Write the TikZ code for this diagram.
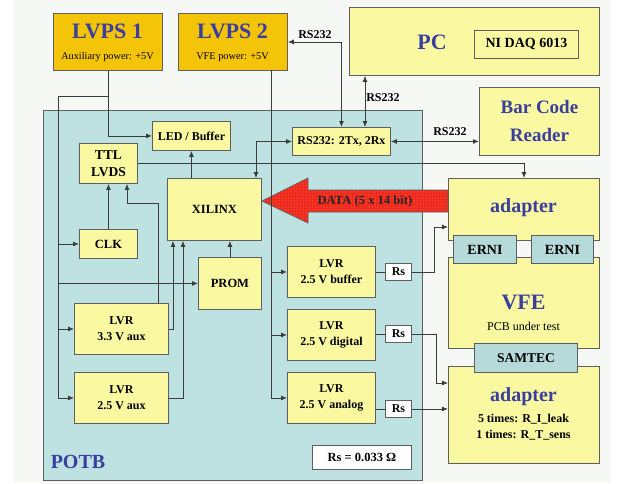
\documentclass[tikz,border=0pt]{standalone}
\usepackage{fontspec}
\setmainfont{Liberation Serif}
\usetikzlibrary{arrows.meta,patterns,calc}
\definecolor{gold}{RGB}{244,196,8}
\definecolor{pale}{RGB}{250,249,162}
\definecolor{potb}{RGB}{190,226,226}
\definecolor{conn}{RGB}{182,218,218}
\definecolor{ttlblue}{RGB}{58,62,158}
\definecolor{edge}{RGB}{95,95,95}
\definecolor{wire}{RGB}{60,60,60}
\definecolor{bg}{RGB}{245,248,245}
\definecolor{datared}{RGB}{240,40,25}
\tikzset{
  bx/.style={draw=edge, line width=0.9pt, anchor=north west, inner sep=0pt, align=center, font=\bfseries\fontsize{12}{16}\selectfont},
  ybox/.style={bx, fill=pale},
  gbox/.style={bx, fill=gold},
  cbox/.style={bx, fill=conn, font=\bfseries\fontsize{14}{15}\selectfont},
  wbox/.style={bx, fill=white},
  bigt/.style={font=\bfseries\fontsize{22}{24}\selectfont, text=ttlblue, inner sep=0pt},
  midt/.style={font=\bfseries\fontsize{20}{22}\selectfont, text=ttlblue, inner sep=0pt, align=center},
  smallt/.style={font=\fontsize{10.3}{11}\selectfont, inner sep=0pt},
  lbl/.style={font=\bfseries\fontsize{12}{13}\selectfont, inner sep=0pt},
  wr/.style={draw=wire, line width=0.8pt},
  ar/.style={wr, -{Latex[length=6pt,width=5pt]}},
  dar/.style={wr, {Latex[length=6pt,width=5pt]}-{Latex[length=6pt,width=5pt]}},
}
\begin{document}
\begin{tikzpicture}[x=1pt,y=-1pt]
\useasboundingbox (0,0) rectangle (625,483);
\fill[bg] (14,0) rectangle (611,482);
% POTB
\node[bx, fill=potb, minimum width=379pt, minimum height=370pt] (potb) at (43,110) {};
\node[midt, anchor=center] (potbt) at (78,462) {POTB};
% top row
\node[gbox, minimum width=109pt, minimum height=57pt] (lvps1) at (53,13) {};
\node[bigt] (lvps1t) at (107.5,31) {LVPS 1};
\node[smallt] (lvps1s) at (107.5,57) {Auxiliary power: +5V};
\node[gbox, minimum width=109pt, minimum height=57pt] (lvps2) at (178,13) {};
\node[bigt] (lvps2t) at (232.5,31) {LVPS 2};
\node[smallt] (lvps2s) at (232.5,57) {VFE power: +5V};
\node[ybox, minimum width=250pt, minimum height=68pt] (pc) at (349,7) {};
\node[bigt] (pct) at (432,42) {PC};
\node[ybox, minimum width=104pt, minimum height=28pt, font=\bfseries\fontsize{14}{16}\selectfont] (daq) at (474,30) {NI DAQ 6013};
\node[ybox, minimum width=120pt, minimum height=68pt, font=\bfseries\fontsize{19}{28}\selectfont, text=ttlblue] (bcr) at (479,87) {Bar Code\\Reader};
% POTB content
\node[ybox, minimum width=78pt, minimum height=29pt] (led) at (152,121) {LED / Buffer};
\node[ybox, minimum width=98pt, minimum height=28pt] (rsb) at (292,127) {RS232: 2Tx, 2Rx};
\node[ybox, minimum width=58pt, minimum height=40pt, font=\bfseries\fontsize{13.5}{17}\selectfont] (ttl) at (79,143) {TTL\\LVDS};
\node[ybox, minimum width=94pt, minimum height=62pt, font=\bfseries\fontsize{12.5}{13}\selectfont] (xil) at (167,178) {XILINX};
\node[ybox, minimum width=58pt, minimum height=29pt, font=\bfseries\fontsize{12.5}{13}\selectfont] (clk) at (79,229) {CLK};
\node[ybox, minimum width=63pt, minimum height=52pt, font=\bfseries\fontsize{12.5}{13}\selectfont] (prom) at (198,257) {PROM};
\node[ybox, minimum width=94pt, minimum height=51pt] (lvr33) at (74,303) {LVR\\3.3 V aux};
\node[ybox, minimum width=94pt, minimum height=51pt] (lvr25) at (74,372) {LVR\\2.5 V aux};
\node[ybox, minimum width=88pt, minimum height=51pt] (lvrb) at (287,246) {LVR\\2.5 V buffer};
\node[ybox, minimum width=88pt, minimum height=51pt] (lvrd) at (287,309) {LVR\\2.5 V digital};
\node[ybox, minimum width=88pt, minimum height=51pt] (lvra) at (287,372) {LVR\\2.5 V analog};
\node[wbox, minimum width=26pt, minimum height=17pt] (rs1) at (385,263) {Rs};
\node[wbox, minimum width=26pt, minimum height=17pt] (rs2) at (385,325) {Rs};
\node[wbox, minimum width=26pt, minimum height=17pt] (rs3) at (385,400) {Rs};
\node[wbox, minimum width=99pt, minimum height=24pt, font=\bfseries\fontsize{12.5}{13}\selectfont] (rseq) at (312,445) {Rs = 0.033 Ω};
% right column
\node[ybox, minimum width=151pt, minimum height=62pt] (ad1) at (448,178) {};
\node[midt] (ad1t) at (523.5,208) {adapter};
\node[ybox, minimum width=151pt, minimum height=91pt] (vfe) at (448,257) {};
\node[bigt] (vfet) at (523.5,302) {VFE};
\node[smallt, font=\fontsize{12}{13}\selectfont] (vfes) at (523.5,326) {PCB under test};
\node[ybox, minimum width=151pt, minimum height=97pt] (ad2) at (448,366) {};
\node[midt] (ad2t) at (523.5,397) {adapter};
\node[lbl, align=center, font=\bfseries\fontsize{12}{16}\selectfont] (ad2s) at (523.5,427) {5 times: R\_I\_leak\\1 times: R\_T\_sens};
\node[cbox, minimum width=63pt, minimum height=28pt] (erni1) at (453,235) {ERNI};
\node[cbox, minimum width=62pt, minimum height=28pt] (erni2) at (531,235) {ERNI};
\node[cbox, minimum width=103pt, minimum height=29pt, font=\bfseries\fontsize{13.5}{14}\selectfont] (samtec) at (474,343) {SAMTEC};
% DATA arrow
\path[draw=edge, line width=0.8pt, fill=datared] (262,201) -- (308,178) -- (308,190) -- (448,190) -- (448,212) -- (308,212) -- (308,223) -- cycle;
\path[pattern=dots, pattern color=red!40!white] (262,201) -- (308,178) -- (308,190) -- (447,190) -- (447,212) -- (308,212) -- (308,223) -- cycle;
\node[lbl, font=\bfseries\fontsize{12.6}{13}\selectfont, text=black!85] (datal) at (365,201) {DATA (5 x 14 bit)};
% helper coordinates
\coordinate (b1) at (58,96);
\coordinate (b2) at (271,70);
\coordinate (x365) at (365,0);
\coordinate (x256) at (256,0);
\coordinate (x158) at (158,0);
\coordinate (x127) at (127,203);
\coordinate (x173) at (173,0);
\coordinate (x183) at (183,0);
\coordinate (k1) at (434,0);
\coordinate (y227) at (0,227);
\coordinate (k2) at (436,0);
\coordinate (y383) at (0,383);
% LVPS1 wiring
\draw[ar] (lvps1.south) |- (led.west);
\draw[wr] (lvps1.south |- b1) -- (b1) -- (b1 |- lvr25.west);
\draw[ar] (b1 |- lvr25.west) -- (lvr25.west);
\draw[ar] (b1 |- lvr33.west) -- (lvr33.west);
\draw[ar] (b1 |- clk.west) -- (clk.west);
\draw[ar] (b1 |- prom.west) -- (prom.west);
% LVPS2 wiring
\draw[wr] (b2) -- (b2 |- lvra.west);
\draw[ar] (b2 |- lvra.west) -- (lvra.west);
\draw[ar] (b2 |- lvrd.west) -- (lvrd.west);
\draw[ar] (b2 |- lvrb.west) -- (lvrb.west);
% RS232 links
\draw[dar] (lvps2.east) -| (rsb.north);
\node[lbl] (l1) at (315,35) {RS232};
\draw[dar] (pc.south -| x365) -- (rsb.north -| x365);
\node[lbl] (l2) at (383,98) {RS232};
\draw[dar] (rsb.east) -- (rsb.east -| bcr.west);
\node[lbl] (l3) at (450,132) {RS232};
% XILINX links
\draw[ar] (led.south |- xil.north) -- (led.south);
\draw[dar] (xil.north -| x256) |- (rsb.west);
\draw[ar] (ttl.east) -| (ad1.north);
\draw[ar] (clk.north) -- (ttl.south);
\draw[ar] (lvr33.north -| x158) |- (x127) -- (ttl.south -| x127);
\draw[ar] (lvr33.east) -| (xil.south -| x173);
\draw[ar] (lvr25.east) -| (xil.south -| x183);
\draw[ar] (prom.north) -- (prom.north |- xil.south);
% Rs links
\draw[wr] (lvrb.east) -- (rs1.west);
\draw[ar] (rs1.east) -| (k1 |- y227) -- (ad1.west |- y227);
\draw[wr] (lvrd.east |- rs2.west) -- (rs2.west);
\draw[ar] (rs2.east) -| (k2 |- y383) -- (ad2.west |- y383);
\draw[wr] (lvra.east |- rs3.west) -- (rs3.west);
\draw[ar] (rs3.east) -- (ad2.west |- rs3.east);
\end{tikzpicture}
\end{document}
